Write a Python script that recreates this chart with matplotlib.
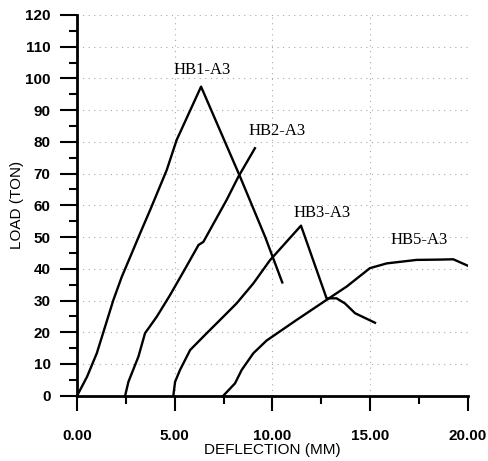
import numpy as np
import matplotlib
matplotlib.use("Agg")
import matplotlib.pyplot as plt
from matplotlib.ticker import MultipleLocator, FormatStrFormatter

# load - deflection curves
hb1_x = [0.0, 0.51, 1.01, 1.43, 1.86, 2.29, 2.80, 3.25, 3.74, 4.59, 5.1, 6.35, 8.35, 9.63, 10.51]
hb1_y = [0.0, 6.0, 13.4, 21.7, 30.2, 37.5, 44.9, 51.5, 58.5, 71.1, 80.6, 97.4, 69.0, 50.1, 35.7]

hb2_x = [2.46, 2.63, 3.14, 3.48, 4.08, 4.76, 5.45, 6.22, 6.47, 7.66, 8.26, 9.11]
hb2_y = [0.0, 4.4, 12.3, 19.7, 24.9, 31.7, 39.1, 47.5, 48.5, 61.7, 69.0, 78.0]

hb3_x = [4.93, 5.02, 5.27, 5.79, 6.64, 7.49, 8.17, 9.03, 9.88, 11.47, 12.78, 13.29,
         13.72, 14.24, 15.26]
hb3_y = [0.0, 4.4, 8.1, 14.4, 19.7, 24.9, 29.1, 35.4, 42.7, 53.6, 30.7, 30.7,
         29.1, 26.0, 23.0]

hb5_x = [7.49, 8.09, 8.43, 9.03, 9.71, 11.25, 12.78, 13.81, 15.0, 15.86, 17.39,
         18.6, 19.27, 20.04]
hb5_y = [0.0, 3.9, 8.1, 13.4, 17.4, 23.9, 30.2, 34.4, 40.2, 41.7, 42.8,
         42.9, 43.0, 40.9]

labels = ["HB1-A3", "HB2-A3", "HB3-A3", "HB5-A3"]
label_pos = [(6.38, 102.5), (10.27, 83.4), (12.57, 57.5), (17.5, 49.1)]

fig = plt.figure(figsize=(4.88, 4.61), dpi=100)
ax = fig.add_axes([0.158, 0.1416, 0.80, 0.826])

for xs, ys in [(hb1_x, hb1_y), (hb2_x, hb2_y), (hb3_x, hb3_y), (hb5_x, hb5_y)]:
    ax.plot(xs, ys, color="black", lw=1.7, solid_joinstyle="round")

for txt, (tx, ty) in zip(labels, label_pos):
    ax.text(tx, ty, txt, ha="center", va="center", fontsize=12,
            family="Liberation Serif", color="black")

ax.set_xlim(0, 20)
ax.set_ylim(0, 120)
ax.xaxis.set_major_locator(MultipleLocator(5))
ax.xaxis.set_minor_locator(MultipleLocator(2.5))
ax.yaxis.set_major_locator(MultipleLocator(10))
ax.yaxis.set_minor_locator(MultipleLocator(5))
ax.xaxis.set_major_formatter(FormatStrFormatter("%.2f"))

for s in ["top", "right"]:
    ax.spines[s].set_visible(False)
for s in ["left", "bottom"]:
    ax.spines[s].set_linewidth(2)

ax.tick_params(axis="y", which="major", direction="out", length=12, width=1.5, pad=7)
ax.tick_params(axis="y", which="minor", direction="out", length=6, width=1.5)
ax.tick_params(axis="x", which="major", direction="out", length=11, width=1.5, pad=13)
ax.tick_params(axis="x", which="minor", direction="out", length=6, width=1.5)
for lab in ax.get_xticklabels() + ax.get_yticklabels():
    lab.set_fontsize(11)
    lab.set_fontweight("bold")
    lab.set_family("Liberation Sans")

ax.grid(True, which="major", linestyle=(0, (1, 4)), color="#aaaaaa", lw=0.8)

ax.set_xlabel("DEFLECTION (MM)", fontsize=11, family="Liberation Sans", labelpad=0)
ax.set_ylabel("LOAD (TON)", fontsize=11, family="Liberation Sans", labelpad=1)

fig.savefig("out.png", dpi=100)
